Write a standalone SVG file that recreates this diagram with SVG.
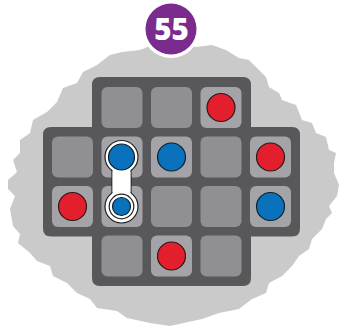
<svg xmlns="http://www.w3.org/2000/svg" width="339" height="326" viewBox="0 0 339 326">
<style>
.cell{fill:#909094}
.cell.on{fill:#a4a4a8}
.red{fill:#e31e2d;stroke:#2a1a1a;stroke-width:1.2}
.blue{fill:#0a72bd;stroke:#10202a;stroke-width:1.2}
.ring{fill:#ffffff;stroke:#222222;stroke-width:1.2}
</style>
<rect width="339" height="326" fill="#ffffff"/>
<polygon id="cloud" fill="#cacaca" points="150,46 140,50 122,52 110,55 97,65 83,72 77,83 63,88 57,102 47,112 33,120 30,133 20,140 20,153 13,160 17,172 8,180 8,189 15,196 10,209 13,226 20,234 18,243 30,253 37,261 50,266 53,276 67,283 77,293 90,299 97,308 117,311 127,318 150,323 170,326 202,319 219,313 239,309 252,299 266,293 269,283 282,276 292,266 299,256 309,249 312,239 322,229 326,219 332,213 329,206 337,196 339,185 334,173 334,163 336,153 329,150 326,137 316,133 312,123 302,120 296,105 282,100 279,93 269,87 266,77 259,70 249,60 239,58 226,50 212,45 196,47 171,40"/>
<g id="badge">
<circle cx="171" cy="29" r="29" fill="#ffffff"/>
<circle cx="171" cy="29" r="25.5" fill="#7b2a8e"/>
<text x="171.5" y="39.5" text-anchor="middle" font-family="'Open Sans','Liberation Sans',sans-serif" font-weight="800" font-size="29.5" fill="#ffffff">55</text>
</g>
<path id="board" fill="#58585a" d="M100,77 H243 Q251,77 251,85 V127 H292 Q300,127 300,135 V228.5 Q300,236.5 292,236.5 H251 V278 Q251,286 243,286 H100 Q92,286 92,278 V236.5 H51 Q43,236.5 43,228.5 V135 Q43,127 51,127 H92 V85 Q92,77 100,77 Z"/>
<g id="cells">
<rect class="cell" x="101.5" y="87" width="41" height="41" rx="6"/>
<rect class="cell" x="151" y="87" width="41" height="41" rx="6"/>
<rect class="cell on" x="200.5" y="87" width="41" height="41" rx="6"/>
<rect class="cell" x="52" y="136.5" width="41" height="41" rx="6"/>
<rect class="cell on" x="101.5" y="136.5" width="41" height="41" rx="6"/>
<rect class="cell on" x="151" y="136.5" width="41" height="41" rx="6"/>
<rect class="cell" x="200.5" y="136.5" width="41" height="41" rx="6"/>
<rect class="cell on" x="250" y="136.5" width="41" height="41" rx="6"/>
<rect class="cell on" x="52" y="186" width="41" height="41" rx="6"/>
<rect class="cell on" x="101.5" y="186" width="41" height="41" rx="6"/>
<rect class="cell" x="151" y="186" width="41" height="41" rx="6"/>
<rect class="cell" x="200.5" y="186" width="41" height="41" rx="6"/>
<rect class="cell on" x="250" y="186" width="41" height="41" rx="6"/>
<rect class="cell" x="101.5" y="235.5" width="41" height="41" rx="6"/>
<rect class="cell on" x="151" y="235.5" width="41" height="41" rx="6"/>
<rect class="cell" x="200.5" y="235.5" width="41" height="41" rx="6"/>
</g>
<g id="connectors">
<rect x="112" y="160" width="19" height="44" fill="#ffffff" stroke="#222222" stroke-width="1.2"/>
<circle class="ring" cx="121.5" cy="157" r="16.5"/>
<circle class="ring" cx="121.5" cy="206.5" r="16.5"/>
<rect x="112.6" y="165" width="17.8" height="35" fill="#ffffff"/>
</g>
<g id="pieces">
<circle id="p1" class="red" cx="221" cy="107.5" r="14"/>
<circle id="p2" class="blue" cx="121.5" cy="157" r="13"/>
<circle id="p3" class="blue" cx="171.5" cy="157" r="14"/>
<circle id="p4" class="red" cx="270.5" cy="157" r="14"/>
<circle id="p5" class="red" cx="72.5" cy="206.5" r="14"/>
<circle id="p6ring" fill="none" stroke="#222222" stroke-width="1.2" cx="121.5" cy="206.5" r="12.3"/>
<circle id="p6" class="blue" cx="121.5" cy="206.5" r="9"/>
<circle id="p7" class="blue" cx="270.5" cy="206.5" r="14"/>
<circle id="p8" class="red" cx="171.5" cy="256" r="14"/>
</g>
</svg>
